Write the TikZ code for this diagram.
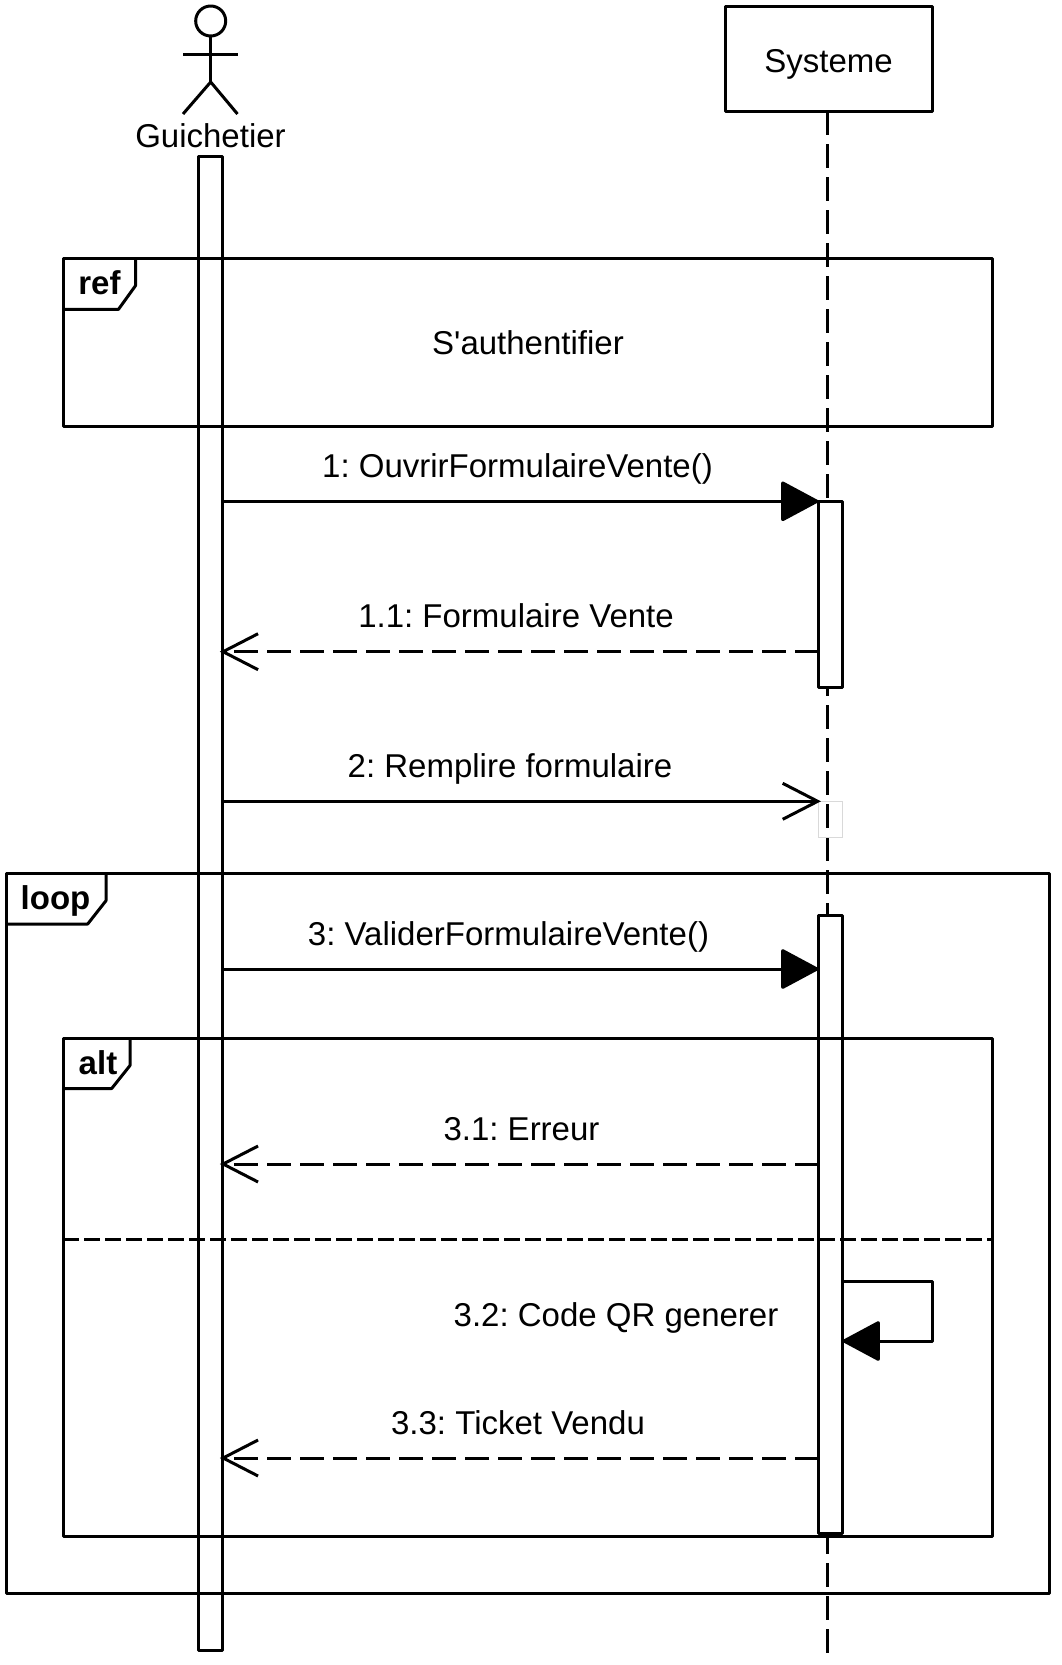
\documentclass[tikz,border=0pt]{standalone}
\usepackage{fontspec}
\setmainfont{Liberation Sans}
\usetikzlibrary{arrows.meta}
\tikzset{
  ln/.style={line width=3pt, line join=round},
  objbox/.style={ln, draw, fill=white, rectangle, inner sep=0pt, outer sep=0pt},
  activ/.style={objbox, minimum width=24pt, anchor=north},
  framebox/.style={ln, draw, rectangle, inner sep=0pt, outer sep=0pt, anchor=north west},
  lifeln/.style={ln, dash pattern=on 23.5pt off 9.5pt},
  sync/.style={ln, -{Triangle[length=39pt,width=41pt,line join=round,round]}},
  openmsg/.style={ln, shorten >=-2.5pt, -{Straight Barb[length=35pt,width=36pt,line width=3pt]}},
  retmsg/.style={openmsg, dash pattern=on 23.5pt off 9.5pt},
  txt/.style={font=\fontsize{33pt}{36pt}\selectfont\frenchspacing, inner sep=0pt, anchor=base},
  tag/.style={font=\fontsize{33pt}{36pt}\selectfont\bfseries, inner sep=0pt, anchor=base},
}
\begin{document}
\begin{tikzpicture}[x=1pt,y=-1pt]
\useasboundingbox (0,0) rectangle (1062,1665);
\fill[white] (0,0) rectangle (1062,1665);

% Actor
\node[ln, draw, circle, minimum size=30pt, inner sep=0pt, outer sep=0pt] (head) at (210.7,21) {};
\coordinate (neck) at (head.south);
\coordinate (hip) at (210.7,82);
\coordinate (armL) at (183,54);
\coordinate (armR) at (237.5,54);
\coordinate (legL) at (183,114);
\coordinate (legR) at (237.5,114);
\draw[ln] (neck) -- (hip);
\draw[ln] (armL) -- (armR);
\draw[ln] (legL) -- (hip) -- (legR);
\node[txt] (guich) at (210.5,147) {Guichetier};

% System object
\node[objbox, minimum width=207pt, minimum height=105pt, anchor=north west] (sys) at (725.2,6) {};
\node[txt] (systxt) at (828.5,72.5) {Systeme};
\coordinate (lifeEnd) at (827.6,1653);
\draw[lifeln] (827.6,111) -- (lifeEnd);

% Activations
\node[activ, minimum height=1494pt] (actL) at (210.3,156) {};
\node[activ, minimum height=186.5pt] (actS1) at (830.5,501) {};
\node[activ, minimum height=618pt] (actS2) at (830.5,915) {};
\node[draw=black!15, line width=1pt, rectangle, minimum width=24.5pt, minimum height=36pt, anchor=north, inner sep=0pt, outer sep=0pt] (actS0) at (830.7,801.3) {};

% ref frame
\node[framebox, minimum width=929.7pt, minimum height=168.5pt] (ref) at (63,258.3) {};
\draw[ln] ([xshift=72.5pt]ref.north west) -- ++(0,27.4) -- ++(-17,23.6) -- ++(-55.5,0);
\node[tag] (reftag) at (99.5,294) {ref};
\node[txt] (reftxt) at (528,354) {S\textquotesingle authentifier};

% loop frame
\node[framebox, minimum width=1043.4pt, minimum height=720pt] (loop) at (6.5,873.5) {};
\draw[ln] ([xshift=99.5pt]loop.north west) -- ++(0,27.2) -- ++(-18.3,23.3) -- ++(-81.2,0);
\node[tag] (looptag) at (55.5,909) {loop};

% alt frame
\node[framebox, minimum width=929.7pt, minimum height=497.5pt] (alt) at (63,1038.5) {};
\draw[ln] ([xshift=67pt]alt.north west) -- ++(0,27) -- ++(-18.3,23) -- ++(-48.7,0);
\node[tag] (alttag) at (98,1074) {alt};
\coordinate (sepY) at (0,1239.3);
\draw[ln, dash pattern=on 16pt off 5pt] (alt.west |- sepY) -- (alt.east |- sepY);

% Messages
\coordinate (m1) at (0,501.3);
\coordinate (m11) at (0,651.7);
\coordinate (m2) at (0,801.3);
\coordinate (m3) at (0,969);
\coordinate (m31) at (0,1164);
\coordinate (m32a) at (0,1281.7);
\coordinate (m32b) at (0,1341);
\coordinate (m33) at (0,1458);
\coordinate (selfX) at (932.5,0);

\draw[sync] (actL.east |- m1) -- (actS1.west |- m1);
\node[txt] (t1) at (517.5,477.7) {1: OuvrirFormulaireVente()};
\draw[retmsg] (actS1.west |- m11) -- (actL.east |- m11);
\node[txt] (t11) at (516,627.5) {1.1: Formulaire Vente};
\draw[openmsg] (actL.east |- m2) -- (actS0.west |- m2);
\node[txt] (t2) at (510,777.5) {2: Remplire formulaire};
\draw[sync] (actL.east |- m3) -- (actS2.west |- m3);
\node[txt] (t3) at (508.5,945.7) {3: ValiderFormulaireVente()};
\draw[retmsg] (actS2.west |- m31) -- (actL.east |- m31);
\node[txt] (t31) at (521.5,1140.5) {3.1: Erreur};
\draw[sync] (actS2.east |- m32a) -- (selfX |- m32a) -- (selfX |- m32b) -- (actS2.east |- m32b);
\node[txt] (t32) at (616,1326.7) {3.2: Code QR generer};
\draw[retmsg] (actS2.west |- m33) -- (actL.east |- m33);
\node[txt] (t33) at (518,1434.5) {3.3: Ticket Vendu};
\end{tikzpicture}
\end{document}
